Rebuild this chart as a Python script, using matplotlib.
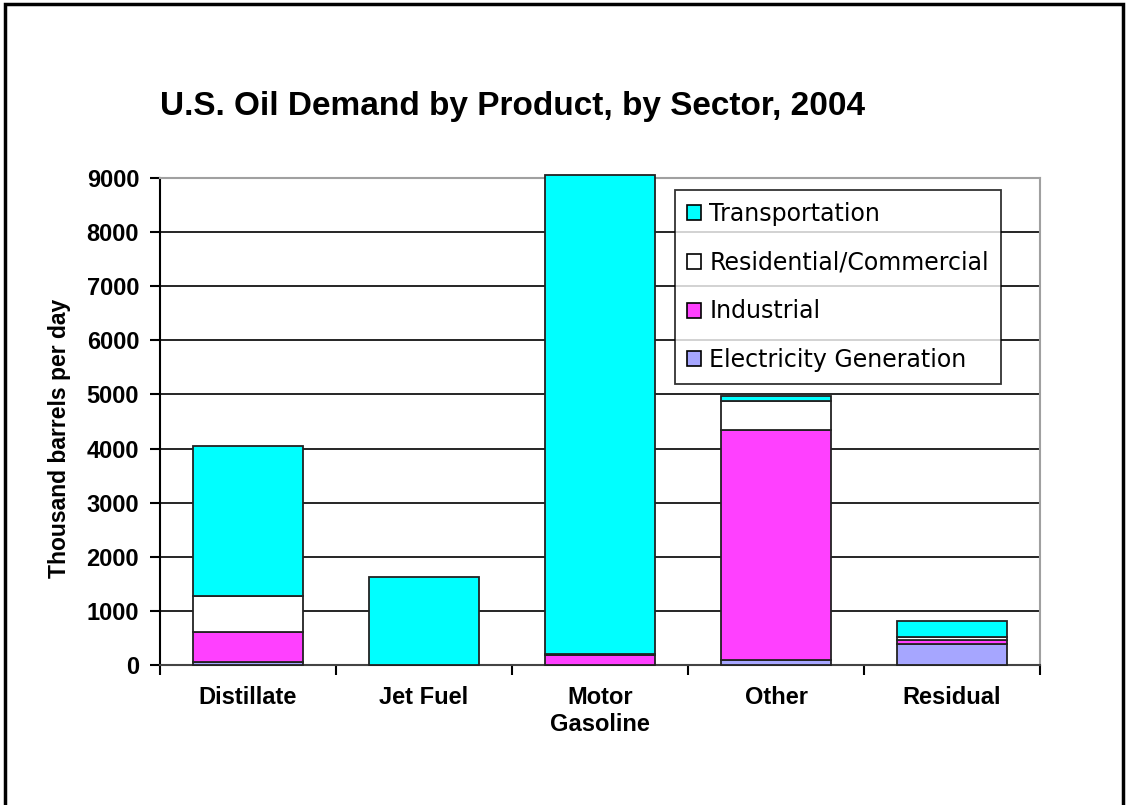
import matplotlib
matplotlib.use('Agg')
import matplotlib.pyplot as plt
from matplotlib.patches import Rectangle
import numpy as np

# Данные (тыс. баррелей в день)
products = ['Distillate', 'Jet Fuel', 'Motor\nGasoline', 'Other', 'Residual']
electricity = [55, 0, 0, 90, 385]
industrial = [555, 0, 180, 4260, 80]
residential = [660, 0, 30, 520, 60]
transportation = [2780, 1625, 8850, 110, 280]

sectors = ['Electricity Generation', 'Industrial', 'Residential/Commercial', 'Transportation']
colors = ['#A6A6FF', '#FF40FF', '#FFFFFF', '#00FFFF']

plt.rcParams['font.family'] = ['Liberation Sans', 'DejaVu Sans']

fig = plt.figure(figsize=(11.27, 8.05), dpi=100)
ax = fig.add_axes([160 / 1127, 1 - 665 / 805, 880 / 1127, 487 / 805])

x = np.arange(len(products))
bottom = np.zeros(len(products))
for vals, col in zip([electricity, industrial, residential, transportation], colors):
    b = ax.bar(x, vals, width=0.625, bottom=bottom, color=col,
               edgecolor='#222222', linewidth=1.3, zorder=3)
    for p in b:
        p.set_clip_on(False)
    bottom += np.array(vals)

ax.set_xlim(-0.5, len(products) - 0.5)
ax.set_ylim(0, 9000)
ax.set_yticks(range(0, 9001, 1000))
ax.yaxis.grid(True, color='black', linewidth=1.2, zorder=0)

# Засечки между категориями
ax.set_xticks(np.arange(-0.5, len(products), 1.0))
ax.set_xticklabels([])
ax.set_xticks(x, minor=True)
ax.set_xticklabels(products, minor=True, fontsize=17, fontweight='bold', linespacing=1.25)
ax.tick_params(axis='x', which='minor', length=0, pad=15)
ax.tick_params(axis='x', which='major', length=7, width=1.5, direction='out')
ax.tick_params(axis='y', length=7, width=1.5, direction='out', labelsize=17, pad=8)
for lbl in ax.get_yticklabels():
    lbl.set_fontweight('bold')

for side in ['top', 'right']:
    ax.spines[side].set_color('#A0A0A0')
    ax.spines[side].set_linewidth(1.5)
ax.spines['left'].set_linewidth(1.5)
ax.spines['bottom'].set_linewidth(1.5)
ax.spines['bottom'].set_color('#444444')

ax.set_ylabel('Thousand barrels per day', fontsize=16.5, fontweight='bold')
ax.yaxis.set_label_coords((71 - 160) / 880, (665 - 438) / 487)
fig.text(512 / 1127, 1 - 106 / 805, 'U.S. Oil Demand by Product, by Sector, 2004',
         ha='center', va='center', fontsize=24, fontweight='bold')

# Легенда в обратном порядке, как в Excel
handles = [Rectangle((0, 0), 1, 1, facecolor=c, edgecolor='black', linewidth=1.2)
           for c in colors][::-1]
leg = ax.legend(handles, sectors[::-1], loc='upper left',
                bbox_to_anchor=((675 - 160) / 880, (665 - 190) / 487),
                prop={'family': 'DejaVu Sans', 'size': 17},
                frameon=True, fancybox=False, edgecolor='black',
                handlelength=0.6, handleheight=0.6, handletextpad=0.35,
                labelspacing=1.05, borderpad=0.5, borderaxespad=0)
leg.get_frame().set_linewidth(1.3)
leg.set_zorder(5)

# Рамка вокруг всей диаграммы
fig.patches.append(Rectangle((5 / 1127, -0.01), 1118 / 1127, 1 - 4 / 805 + 0.01,
                             transform=fig.transFigure, fill=False,
                             edgecolor='black', linewidth=2.5))

fig.savefig('out.png', dpi=100)
